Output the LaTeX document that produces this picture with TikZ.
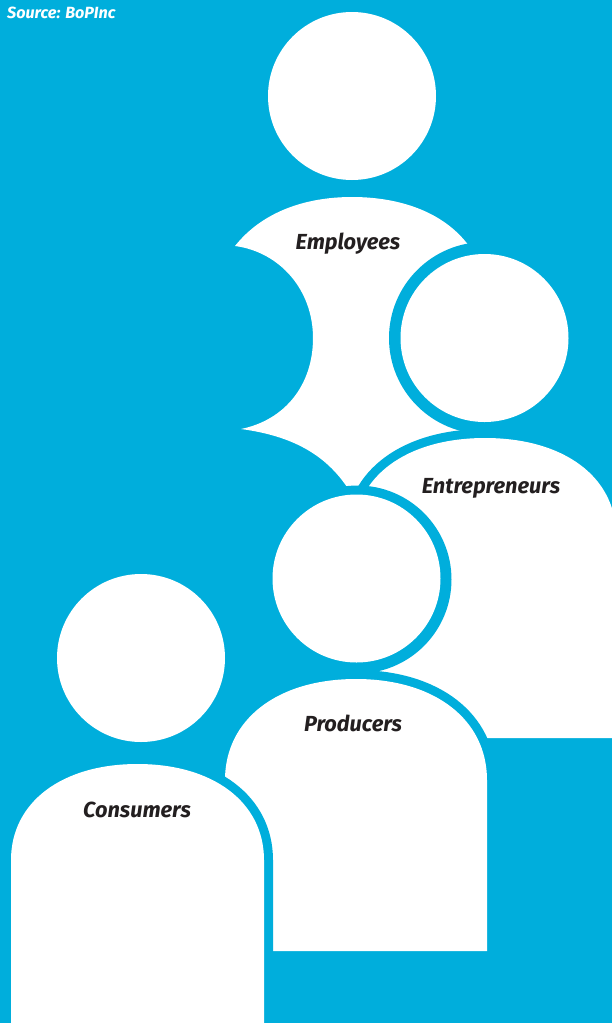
\documentclass[tikz,border=0pt]{standalone}
\usepackage{fontspec}
\setmainfont{Fira Sans}
\usetikzlibrary{positioning}
\definecolor{skyback}{HTML}{00AEDC}
\definecolor{labelink}{HTML}{231F20}
% left, top, right, shoulder, bottom
\newcommand{\bodypath}[5]{%
	(#1,#5) -- (#1,#4)
	.. controls (#1,{#4-0.6*(#4-#2)}) and ({(#1+#3)/2-0.6*(#3-#1)/2},#2) .. ({(#1+#3)/2},#2)
	.. controls ({(#1+#3)/2+0.6*(#3-#1)/2},#2) and (#3,{#4-0.6*(#4-#2)}) .. (#3,#4)
	-- (#3,#5) -- cycle}
\begin{document}
\begin{tikzpicture}[%
	x=1pt,
	y=-1pt,
	head/.style={%
		circle,
		fill=white,
		inner sep=0pt,
		minimum size=168pt
	},
	ring/.style={%
		circle,
		fill=skyback,
		inner sep=0pt
	},
	body/.style={%
		fill=white,
		preaction={draw=skyback,line width=18pt}
	},
	tag/.style={%
		font=\fontsize{21.8}{24}\selectfont\bfseries\itshape,
		text=labelink,
		inner sep=0pt,
		anchor=base
	}
	]

	\useasboundingbox (0,0) rectangle (612,1023);
	\clip (0,0) rectangle (612,1023);
	\fill[skyback] (0,0) rectangle (612,1023);

	\node[font=\fontsize{16.2}{18}\selectfont\bfseries\itshape,text=white,inner sep=0pt,anchor=base west] (source) at (7,18) {Source: BoPInc};

	% Employees
	\node[head] (employeehead) at (352,96) {};
	\fill[white] (235,246) .. controls (262,212) and (305,197) .. (352,197)
		.. controls (400,197) and (444,212) .. (469,246)
		-- (461,430) -- (352,490) -- (347,487)
		.. controls (322,450) and (285,435) .. (241,429)
		.. controls (285,420) and (313,385) .. (313,338)
		.. controls (313,290) and (280,252) .. (235,246) -- cycle;
	\node[tag] (employees) at (348,249) {Employees};

	% Entrepreneurs
	\path[body] \bodypath{354}{438}{616}{535}{738};
	\node[ring,minimum size=192pt] (entrepreneurring) at (485,338) {};
	\node[head] (entrepreneurhead) at (484.5,338) {};
	\node[tag] (entrepreneurs) at (491,493) {Entrepreneurs};

	% Producers
	\path[body] \bodypath{225}{679}{487}{780}{951};
	\node[ring,minimum size=188pt] (producerring) at (357.5,579.5) {};
	\node[head] (producerhead) at (356.5,578.5) {};
	\node[tag] (producers) at (353,731) {Producers};

	% Consumers
	\path[body] \bodypath{11}{764}{264}{860}{1040};
	\node[head] (consumerhead) at (141,658) {};
	\node[tag] (consumers) at (137,817) {Consumers};
\end{tikzpicture}
\end{document}
